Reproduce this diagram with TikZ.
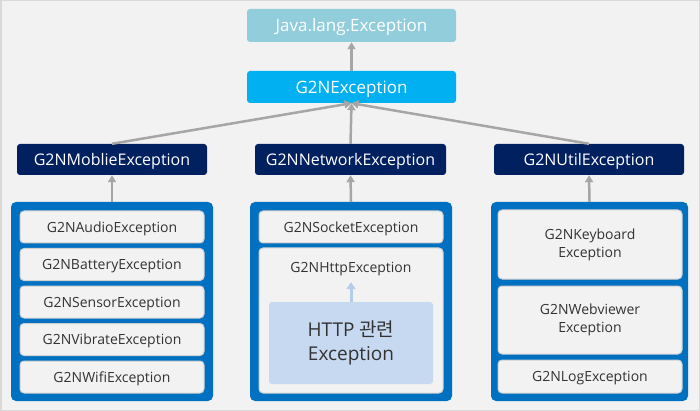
\documentclass[tikz,border=0pt]{standalone}
\usepackage{fontspec}
\setmainfont{Open Sans}
\newfontfamily\kr{Noto Sans CJK KR}
\usetikzlibrary{arrows.meta}
\definecolor{bg}{HTML}{F2F2F2}
\definecolor{frame}{HTML}{D9D9D9}
\definecolor{javac}{HTML}{92CDDC}
\definecolor{g2nc}{HTML}{00B0F0}
\definecolor{navy}{HTML}{002060}
\definecolor{grpblue}{HTML}{0070C0}
\definecolor{itemline}{HTML}{D0D0D0}
\definecolor{txt}{HTML}{333333}
\definecolor{arrowc}{HTML}{A6A6A6}
\definecolor{lightblue}{HTML}{C6D9F1}
\definecolor{lbarrow}{HTML}{B4CDEB}
\tikzset{
  topbox/.style={rectangle, rounded corners=3pt, text=white, font=\fontsize{17}{20}\selectfont, inner sep=0pt, text depth=0pt},
  navybox/.style={rectangle, rounded corners=3pt, fill=navy, text=white, font=\fontsize{16}{19}\selectfont, minimum width=190pt, minimum height=31pt, inner sep=0pt, text depth=0pt},
  grpbox/.style={rectangle, rounded corners=5pt, fill=grpblue, minimum height=199pt, inner sep=0pt},
  itembox/.style={rectangle, rounded corners=4pt, fill=bg, draw=itemline, line width=1pt, text=txt, font=\fontsize{14}{18}\selectfont, minimum width=184pt, align=center, inner sep=0pt},
  onebox/.style={itembox, text depth=0pt},
  conn/.style={draw=arrowc, line width=2.5pt, -{Triangle[length=7pt,width=8pt]}},
  lbconn/.style={draw=lbarrow, line width=3pt, -{Triangle[length=7pt,width=9pt]}},
}
\begin{document}
\begin{tikzpicture}[x=1pt,y=-1pt]
\useasboundingbox (0,0) rectangle (700,411);
\fill[bg] (0,0) rectangle (700,411);
\draw[frame, line width=1.5pt] (0.75,0.75) rectangle (699.25,410.25);

\node[topbox, fill=javac, minimum width=209pt, minimum height=33pt] (java) at (351.5,25.5) {Java.lang.Exception};
\node[topbox, fill=g2nc, minimum width=209pt, minimum height=32pt] (g2n) at (351.5,87) {G2NException};

\node[navybox] (mob) at (112,159.5) {G2NMoblieException};
\node[navybox, minimum width=191pt] (net) at (350.5,159.5) {G2NNetworkException};
\node[navybox] (util) at (589,159.5) {G2NUtilException};

\node[grpbox, minimum width=202pt] (lg) at (112,301.5) {};
\node[grpbox, minimum width=202pt] (mg) at (351,301.5) {};
\node[grpbox, minimum width=197pt] (rg) at (589.5,301.5) {};

\node[onebox, minimum height=32pt] (audio) at (112,227) {G2NAudioException};
\node[onebox, minimum height=32pt] (battery) at (112,264.5) {G2NBatteryException};
\node[onebox, minimum height=32pt] (sensor) at (112,302) {G2NSensorException};
\node[onebox, minimum height=32pt] (vibrate) at (112,339.5) {G2NVibrateException};
\node[onebox, minimum height=32pt] (wifi) at (112,377) {G2NWifiException};

\node[onebox, minimum height=32pt] (socket) at (351,227) {G2NSocketException};
\node[itembox, minimum height=145pt] (http) at (351,320.5) {};
\node[text=txt, font=\fontsize{14}{18}\selectfont, inner sep=0pt, text depth=0pt, minimum height=30pt] (httplabel) at (351,267) {G2NHttpException};
\node[rectangle, rounded corners=3pt, fill=lightblue, minimum width=164pt, minimum height=82pt, inner sep=0pt, text=txt, align=center, font=\fontsize{19}{24}\selectfont] (httpinner) at (351,343) {HTTP {\kr 관련}\\Exception};

\node[itembox, minimum height=69pt] (keyboard) at (590,244.5) {G2NKeyboard\\Exception};
\node[itembox, minimum height=68pt] (webview) at (590,320) {G2NWebviewer\\Exception};
\node[onebox, minimum height=33pt] (log) at (590,376.5) {G2NLogException};

\draw[conn] (g2n) -- (java);
\draw[conn] (mob.north) -- (g2n.south);
\draw[conn] (net.north) -- (g2n.south);
\draw[conn] (util.north) -- (g2n.south);
\draw[conn] (lg.north) -- (mob.south);
\draw[conn] (mg.north) -- (net.south);
\draw[conn] (rg.north) -- (util.south);
\draw[lbconn] (httpinner.north) -- (httplabel.south);
\end{tikzpicture}
\end{document}
